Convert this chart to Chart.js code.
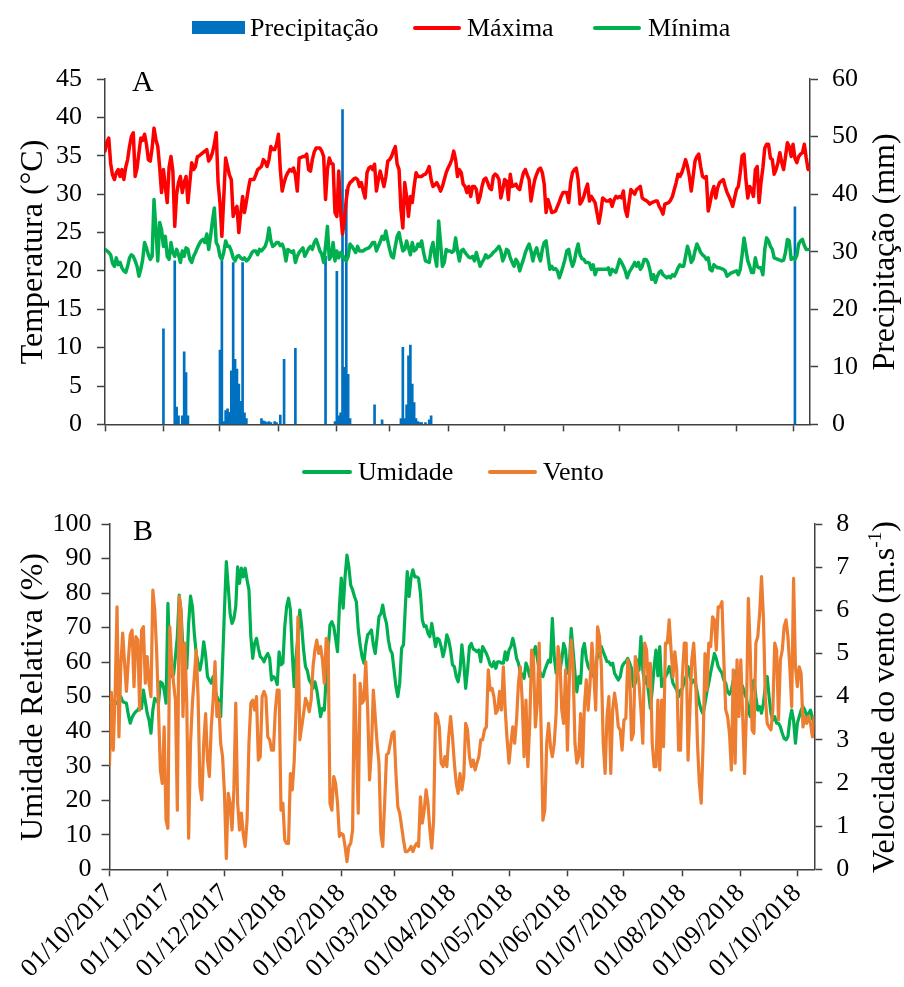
<!DOCTYPE html>
<html><head><meta charset="utf-8">
<script src="https://cdn.jsdelivr.net/npm/chart.js@4.4.1/dist/chart.umd.min.js"></script>
<style>
html,body{margin:0;padding:0;background:#fff;}
#wrap{position:relative;width:904px;height:987px;overflow:hidden;font-family:'Liberation Serif','Times New Roman',serif;color:#000;}
canvas{position:absolute;left:0;}
.rot{position:absolute;white-space:nowrap;line-height:1;font-size:32px;transform:translate(-50%,-50%) rotate(-90deg);}
.leg{position:absolute;font-size:26px;line-height:26px;white-space:nowrap;}
.sw{position:absolute;}
.pl{position:absolute;font-size:30px;line-height:30px;}
sup{font-size:0.6em;vertical-align:0.7em;line-height:0;}
</style></head>
<body><div id="wrap">
<canvas id="c1" width="904" height="455" style="top:0"></canvas>
<canvas id="c2" width="904" height="532" style="top:455px"></canvas>

<div class="sw" style="left:192px;top:21px;width:53px;height:13px;background:#0070C0"></div>
<div class="leg" style="left:250px;top:15px">Precipitação</div>
<div class="sw" style="left:413px;top:26px;width:48px;height:4px;background:#FF0000;border-radius:2px"></div>
<div class="leg" style="left:467px;top:15px">Máxima</div>
<div class="sw" style="left:593px;top:26px;width:48px;height:4px;background:#00B050;border-radius:2px"></div>
<div class="leg" style="left:648px;top:15px">Mínima</div>

<div class="sw" style="left:302px;top:470px;width:50px;height:4px;background:#00B050;border-radius:2px"></div>
<div class="leg" style="left:358px;top:459px">Umidade</div>
<div class="sw" style="left:488px;top:470px;width:49px;height:4px;background:#ED7D31;border-radius:2px"></div>
<div class="leg" style="left:543px;top:459px">Vento</div>

<div class="rot" style="left:31px;top:252px">Temperatura (°C)</div>
<div class="rot" style="left:883px;top:252px">Precipitação (mm)</div>
<div class="rot" style="left:31px;top:697px">Umidade Relativa (%)</div>
<div class="rot" style="left:883px;top:697px">Velocidade do vento (m.s<sup>-1</sup>)</div>

<div class="pl" style="left:132px;top:66px">A</div>
<div class="pl" style="left:133px;top:515px">B</div>
</div>
<script>
// ---- DATA (day offsets counted from 01/10/2017) ----
const monthLabels = ["01/10/2017","01/11/2017","01/12/2017","01/01/2018","01/02/2018","01/03/2018","01/04/2018","01/05/2018","01/06/2018","01/07/2018","01/08/2018","01/09/2018","01/10/2018"];
const monthStartDays = [0,31,61,92,123,151,182,212,243,273,304,335,365];

const tempMax = [
35.6,36.8,37.3,34.0,32.5,31.9,32.8,33.2,32.3,33.2,
31.9,33.5,34.5,36.2,37.5,38.0,32.3,33.4,35.4,37.3,
37.0,37.8,36.5,34.5,34.3,36.0,38.6,37.1,36.2,33.5,
30.2,33.2,31.0,28.9,33.5,34.9,33.0,25.8,30.0,31.5,
32.3,30.2,31.5,32.3,28.9,31.5,34.1,33.2,33.6,34.9,
35.0,35.2,35.4,35.6,35.8,34.3,34.7,35.4,36.5,38.0,
31.5,28.9,24.5,29.5,34.7,33.6,32.5,31.9,27.1,28.0,
28.4,25.0,27.5,29.7,27.6,29.0,30.6,31.9,31.9,31.9,
32.5,33.2,33.4,33.6,34.5,34.2,33.6,34.5,36.2,35.8,
35.8,36.5,37.8,
33.2,30.4,31.5,32.3,32.8,33.2,33.0,
33.4,32.5,30.4,34.7,34.8,34.9,34.9,35.2,33.2,33.0,
34.5,35.5,36.0,36.0,36.0,35.6,34.9,29.3,33.2,34.7,
34.0,33.9,27.6,27.1,33.0,27.6,24.8,26.7,29.3,31.0,
31.5,31.7,32.0,32.1,31.9,31.0,31.5,30.4,29.5,32.8,
33.4,33.6,33.2,33.9,30.4,31.9,33.0,32.0,31.0,32.3,
34.3,34.5,34.9,35.6,36.2,33.9,33.2,28.0,25.6,31.5,
29.7,27.1,29.7,28.9,31.0,32.8,32.3,32.3,32.3,32.5,
32.6,33.0,33.6,31.9,31.0,31.2,31.5,31.0,30.4,31.0,
31.9,32.8,33.4,
33.9,34.5,35.6,34.5,32.3,33.2,32.8,
31.3,31.0,30.2,31.0,29.7,31.0,31.0,30.6,28.9,29.7,
31.0,31.9,32.1,31.5,30.8,30.6,32.3,32.6,32.4,31.9,
29.5,30.6,31.9,31.7,29.3,32.6,31.0,31.1,31.3,30.8,
30.6,31.8,32.8,33.2,32.5,31.9,29.1,30.6,31.9,32.6,
33.2,33.4,32.8,31.3,27.6,29.3,28.5,27.6,27.7,27.8,
28.4,29.0,29.7,30.2,30.2,30.2,28.9,31.5,32.8,33.2,
33.4,31.9,28.7,29.1,29.7,30.6,31.3,29.1,29.7,29.3,
28.9,27.6,26.2,27.6,29.5,29.3,29.1,29.1,29.3,28.4,
29.2,29.7,29.5,29.7,29.5,30.4,28.0,27.1,
28.9,30.6,30.3,30.0,30.6,30.8,31.0,29.5,29.3,29.2,
29.0,28.7,28.9,29.0,29.1,29.1,28.4,28.0,27.4,28.7,
28.8,28.9,29.2,29.7,30.6,31.5,32.6,32.3,32.8,33.6,
34.5,33.6,32.3,30.4,32.3,34.3,34.9,35.2,33.6,32.3,
32.1,32.3,27.8,28.9,30.2,31.0,29.5,30.8,31.5,31.7,
31.9,31.0,30.2,29.7,29.1,28.4,29.5,30.6,31.0,32.8,
35.0,35.2,31.9,29.5,31.0,30.6,29.7,33.2,33.6,28.9,
31.5,33.4,36.0,36.5,36.5,34.7,34.5,32.6,33.2,34.1,
35.4,34.1,33.2,34.9,36.7,36.2,34.9,36.5,34.7,34.1,
34.9,35.2,35.4,36.5,34.7,33.2];

const tempMin = [
22.8,22.6,22.4,22.1,21.0,20.6,21.7,20.8,21.1,20.4,
20.0,19.8,20.6,21.7,22.1,21.9,21.3,20.6,19.3,20.2,
21.5,23.7,23.0,22.1,21.5,21.9,29.3,25.4,21.3,26.3,
25.4,23.2,24.5,21.9,21.5,23.7,22.4,21.9,22.8,22.1,
21.1,22.6,21.9,23.0,22.8,21.5,21.1,21.9,22.4,23.0,
23.5,23.9,24.1,23.7,24.8,22.8,24.5,26.5,28.2,23.7,
23.2,21.9,21.5,22.4,23.9,23.2,23.2,22.6,21.7,21.3,
21.9,22.0,21.7,21.5,21.7,21.3,21.5,21.9,22.4,22.6,
22.6,22.1,22.8,22.6,22.9,23.2,24.0,25.6,23.9,23.2,
23.4,23.7,23.7,
23.3,23.5,22.8,21.3,22.8,22.6,22.4,
22.6,21.1,21.9,22.4,22.7,23.0,21.9,22.4,22.9,23.2,
22.8,23.7,24.1,23.4,22.6,22.2,21.1,23.2,25.8,21.5,
21.9,23.7,21.3,22.6,21.7,22.4,22.1,21.5,21.3,21.9,
23.5,23.2,22.8,22.4,23.2,22.6,22.6,22.6,22.8,22.9,
23.0,23.3,23.7,23.7,22.6,23.2,23.8,24.5,24.1,25.2,
23.9,22.8,21.9,21.7,23.2,24.5,25.0,23.7,22.6,22.8,
23.9,23.0,22.1,23.7,22.6,22.8,23.5,23.2,23.9,22.4,
21.3,21.2,21.1,22.8,23.7,21.9,20.6,26.5,23.7,20.6,
21.1,22.8,22.6,
22.6,22.4,22.6,24.3,22.6,21.3,22.6,
22.8,22.4,22.1,21.8,21.7,21.9,21.3,22.4,21.5,20.6,
21.1,21.5,22.1,21.7,21.9,22.1,22.4,22.6,22.9,23.2,
22.6,21.3,21.9,22.8,22.6,21.7,21.1,20.6,21.5,21.1,
20.0,20.8,21.5,22.4,23.0,23.5,22.6,21.3,22.4,23.0,
22.0,21.3,22.8,23.7,23.9,21.9,20.2,20.6,20.2,20.3,
20.0,19.1,19.8,20.6,21.5,22.6,22.8,21.5,20.6,21.3,
22.6,23.5,22.1,21.6,21.5,21.1,21.1,21.0,20.2,20.8,
19.5,20.2,20.2,20.2,20.2,20.2,20.2,20.4,19.5,20.2,
20.0,19.8,20.6,21.5,21.1,20.6,20.0,19.1,
19.8,20.2,20.6,21.1,20.6,21.1,20.2,20.6,21.5,21.5,
21.1,20.2,18.9,19.5,18.5,19.3,19.8,20.0,19.5,19.3,
19.1,19.3,19.1,19.5,19.3,19.8,20.4,20.8,20.6,20.6,
21.9,23.2,22.4,21.1,21.5,22.6,23.5,23.0,22.4,22.1,
21.9,21.5,21.7,20.2,20.0,20.8,20.6,20.4,20.4,20.3,
20.2,20.0,19.3,19.5,19.7,19.8,19.9,20.0,19.5,20.2,
22.1,24.3,22.8,21.3,20.6,19.8,19.8,21.7,20.6,20.4,
20.4,19.5,22.8,24.3,23.9,23.2,22.8,21.7,21.6,21.5,
21.4,21.3,21.4,22.4,24.1,23.9,21.5,21.7,21.5,22.0,
23.5,23.9,24.1,23.3,22.8,22.8];

const rainDays = [31,37,38,39,41,42,43,44,61,62,63,64,65,66,67,68,69,70,71,72,73,74,75,83,84,85,86,87,88,90,91,93,95,101,117,122,123,124,125,126,127,128,129,130,143,147,157,158,159,160,161,162,163,164,165,166,167,168,170,172,173,366];
const rainMm = [16.6,28.4,3.0,1.5,1.5,12.6,9.0,1.5,12.9,28.4,0.5,2.4,2.7,2.1,9.3,28.1,11.3,9.6,7.0,4.0,28.1,2.0,1.0,1.0,0.6,0.5,0.3,0.5,0.3,0.5,0.3,1.6,11.3,13.2,29.2,0.5,26.6,1.5,2.0,54.7,9.9,40.8,8.7,1.0,3.4,0.8,1.0,13.4,1.0,3.4,11.9,13.8,7.0,3.8,1.0,0.5,0.3,0.3,0.3,0.8,1.5,37.8];

const humidity = [
48.1,49.0,48.8,48.6,48.1,49.0,50.0,48.6,48.3,48.1,
44.7,42.3,44.0,45.0,45.7,46.1,47.1,46.6,51.9,48.6,
45.2,43.2,39.4,46.1,49.5,49.0,48.1,54.3,53.9,51.9,
48.1,77.0,60.6,55.8,56.3,61.6,67.4,79.4,74.1,63.5,
60.6,58.2,71.2,79.1,76.1,68.3,62.5,59.7,57.7,60.6,
65.9,62.0,55.8,54.8,53.9,55.8,51.9,50.0,48.5,44.2,
59.7,75.1,89.1,81.9,74.1,71.2,72.5,76.1,87.6,82.8,
87.2,84.7,87.2,83.8,81.0,67.4,61.1,65.4,66.9,64.0,
61.6,61.1,60.1,61.6,62.5,61.1,54.8,55.8,55.3,53.5,
63.0,
59.2,59.7,70.3,76.1,78.5,75.1,62.5,52.9,61.6,67.4,
75.1,70.3,63.5,58.7,57.5,54.8,53.9,52.4,54.3,51.9,
48.1,44.2,46.6,46.1,55.8,63.5,70.8,71.7,70.3,66.8,
63.0,76.1,84.3,75.6,84.7,91.0,87.6,82.3,80.9,79.0,
77.5,69.5,65.0,61.6,59.7,64.9,67.9,68.5,69.3,65.0,
62.5,67.4,73.2,74.0,76.5,73.2,71.2,66.4,63.5,62.5,
57.7,52.9,50.0,53.9,64.0,65.0,76.1,86.2,79.0,84.5,
86.7,84.7,84.7,84.3,79.9,72.2,70.3,70.5,68.3,67.4,
71.2,67.9,64.5,66.9,66.4,64.5,61.6,64.0,67.9,66.4,
63.5,
59.2,58.7,55.8,54.3,57.7,65.0,59.7,52.4,57.7,64.5,
65.4,63.8,63.5,63.0,63.5,60.1,64.5,63.5,62.5,61.1,
59.2,58.7,60.1,58.2,60.1,60.1,59.7,59.7,63.0,60.6,
63.5,64.5,66.9,64.5,61.1,59.7,57.2,56.3,55.3,59.7,
58.2,55.8,58.2,62.5,64.5,61.1,57.7,56.3,55.8,57.7,
59.2,60.6,60.0,72.7,61.6,56.8,58.2,57.7,60.6,65.4,
63.5,56.8,59.2,69.8,63.5,56.8,51.4,55.8,53.9,63.5,
65.4,61.1,58.7,57.7,56.8,55.8,58.7,62.5,61.6,64.5,
63.0,61.6,60.1,60.1,59.2,59.7,56.8,55.8,54.8,55.8,
58.7,
59.7,60.1,61.1,59.7,58.2,52.9,53.9,60.6,57.7,67.4,
57.7,53.9,55.8,51.4,46.6,51.9,58.7,63.5,56.0,64.5,
52.9,54.8,55.8,56.8,58.7,56.8,53.9,52.9,51.9,50.0,
51.9,52.4,54.3,55.8,58.7,55.8,53.9,54.8,53.9,51.0,
48.1,46.1,45.0,48.1,51.4,53.9,57.0,59.7,62.5,61.0,
58.7,57.7,56.8,54.8,53.9,51.4,50.7,51.9,54.8,56.8,
57.7,56.8,53.9,52.9,51.0,49.5,46.1,44.2,53.9,54.8,
50.0,46.1,47.1,45.2,48.1,52.9,55.8,50.0,45.2,43.2,
44.2,42.3,42.3,41.3,39.4,37.9,37.5,38.4,43.2,46.1,
43.2,36.5,42.3,44.2,46.1,47.1,46.1,44.2,45.2,46.1,
43.7,42.3];

const wind = [
2.42,4.1,2.76,4.12,6.08,3.07,4.73,5.47,4.77,4.12,
4.85,5.43,5.54,4.23,5.39,5.31,3.69,5.54,5.62,4.31,
4.93,4.31,4.0,6.47,6.01,5.08,3.69,2.3,1.99,3.3,
1.14,0.95,5.62,4.77,4.31,3.92,1.37,6.32,6.01,3.54,
5.24,3.85,0.72,2.92,3.85,4.46,5.08,4.0,1.92,1.61,
2.92,3.61,2.53,2.15,3.3,3.92,4.81,3.54,3.85,2.92,
2.61,1.76,0.25,1.76,1.53,0.91,1.84,3.85,1.53,0.91,
1.3,0.8,0.53,1.14,2.92,3.85,3.92,3.69,4.0,2.53,
2.61,4.0,4.12,4.0,3.07,3.0,2.76,2.76,3.69,4.15,
4.15,
1.37,1.53,0.68,0.6,0.6,2.22,1.84,2.5,3.69,5.85,
3.0,3.3,3.61,3.96,3.85,3.65,3.92,4.69,5.08,5.31,
5.0,5.16,4.85,4.31,5.35,5.24,1.53,1.37,2.15,1.99,
1.53,0.76,0.83,0.8,0.53,0.18,0.53,0.6,0.91,4.5,
2.92,1.3,4.31,3.85,3.92,4.81,3.69,2.07,2.76,4.15,
3.54,2.92,2.46,0.83,0.53,1.53,2.65,2.69,2.92,3.15,
3.19,2.22,1.45,1.3,0.99,0.68,0.41,0.41,0.45,0.53,
0.41,0.53,0.6,0.53,1.68,1.07,1.37,1.84,1.53,0.91,
0.49,1.14,3.61,3.54,3.3,2.46,2.38,2.61,2.38,3.07,
3.54,
3.07,2.46,1.99,1.76,2.22,1.84,2.15,3.38,3.23,2.61,
2.38,2.53,2.3,2.46,2.61,3.0,3.0,3.23,3.3,4.62,
4.15,4.19,4.0,3.61,3.69,4.12,3.69,4.69,3.69,3.0,
2.46,2.92,3.3,2.92,3.46,4.31,4.69,3.92,2.61,3.92,
2.38,3.38,5.08,4.85,3.3,3.85,5.24,3.3,1.14,1.37,
2.92,3.38,2.84,2.61,2.92,3.61,5.16,4.85,3.69,3.38,
4.62,2.76,4.39,5.31,4.69,2.92,2.46,2.61,3.61,2.38,
3.77,4.39,3.69,4.31,5.24,4.54,3.69,5.62,5.39,4.69,
2.92,2.22,3.54,4.0,2.22,3.69,4.08,3.77,3.3,
3.23,2.76,3.46,3.5,4.85,4.62,3.0,3.15,4.93,4.69,
4.31,3.69,2.92,5.24,5.08,4.23,4.77,2.92,2.38,2.38,
3.92,2.3,3.92,2.84,5.24,5.24,5.78,5.08,4.46,5.04,
4.62,2.76,2.76,4.46,5.24,5.24,2.53,3.69,4.85,5.24,
4.46,2.92,1.99,1.53,2.92,5.0,4.15,5.24,5.16,5.85,
5.78,5.08,6.08,6.08,6.2,4.85,3.69,3.54,3.15,2.3,
4.62,2.46,4.85,3.54,4.85,3.54,2.22,3.69,6.28,5.08,
3.23,3.15,5.24,5.39,5.93,6.78,5.85,4.0,3.38,3.3,
3.23,3.69,5.24,5.08,3.46,4.85,5.08,5.62,5.78,5.39,
4.69,3.77,6.74,4.69,4.23,4.69,4.54,3.3,3.54,3.38,
3.54,3.38,3.07,3.54];

// ---- CHARTS ----
const FONT = "'Liberation Serif', 'Times New Roman', serif";
const AX = '#404040';
const series = arr => arr.map((v, i) => ({x: i, y: v}));

function xAxis(showLabels, height) {
  return {
    type: 'linear', min: 0, max: 374, offset: false,
    afterBuildTicks: s => { s.ticks = monthStartDays.map(v => ({value: v})); },
    afterFit: s => { s.height = height; },
    ticks: {
      display: showLabels, autoSkip: false, minRotation: 45, maxRotation: 45, padding: 2,
      color: '#000', font: {family: FONT, size: 26},
      callback: v => monthLabels[monthStartDays.indexOf(v)]
    },
    grid: {offset: false, drawOnChartArea: false, drawTicks: true, tickLength: 7, tickColor: AX, tickWidth: 1.5},
    border: {display: true, color: AX, width: 1.5}
  };
}
function yAxis(pos, min, max, step, width, pad) {
  return {
    type: 'linear', position: pos, min: min, max: max,
    afterFit: s => { s.width = width; },
    ticks: {stepSize: step, padding: pad, color: '#000', font: {family: FONT, size: 26}},
    grid: {drawOnChartArea: false, drawTicks: true, tickLength: 8, tickColor: AX, tickWidth: 1.5},
    border: {display: true, color: AX, width: 1.5}
  };
}
const common = {
  responsive: false, animation: false, devicePixelRatio: 1,
  plugins: {legend: {display: false}, tooltip: {enabled: false}},
  elements: {point: {radius: 0}, line: {tension: 0, borderJoinStyle: 'round', borderCapStyle: 'round'}}
};

new Chart(document.getElementById('c1'), {
  type: 'line',
  data: {datasets: [
    {label: 'Máxima', data: series(tempMax), borderColor: '#FF0000', borderWidth: 3.5, yAxisID: 'y', order: 0},
    {label: 'Mínima', data: series(tempMin), borderColor: '#00B050', borderWidth: 3.5, yAxisID: 'y', order: 1},
    {type: 'bar', label: 'Precipitação', data: rainDays.map((d, i) => ({x: d, y: rainMm[i]})),
     backgroundColor: '#0070C0', barThickness: 2, yAxisID: 'y2', order: 2}
  ]},
  options: Object.assign({}, common, {
    layout: {padding: {top: 79, left: 0, right: 0, bottom: 0}},
    scales: {
      x: xAxis(false, 29.7),
      y: yAxis('left', 0, 45, 5, 105, 15),
      y2: yAxis('right', 0, 60, 10, 94, 14)
    }
  })
});

new Chart(document.getElementById('c2'), {
  type: 'line',
  data: {datasets: [
    {label: 'Umidade', data: series(humidity), borderColor: '#00B050', borderWidth: 3.2, yAxisID: 'y', order: 1},
    {label: 'Vento', data: series(wind), borderColor: '#ED7D31', borderWidth: 3.2, yAxisID: 'y2', order: 0}
  ]},
  options: Object.assign({}, common, {
    layout: {padding: {top: 69, left: 0, right: 0, bottom: 0}},
    scales: {
      x: xAxis(true, 117.7),
      y: yAxis('left', 0, 100, 10, 109.5, 10),
      y2: yAxis('right', 0, 8, 1, 89.7, 14)
    }
  })
});
</script>
</body></html>
